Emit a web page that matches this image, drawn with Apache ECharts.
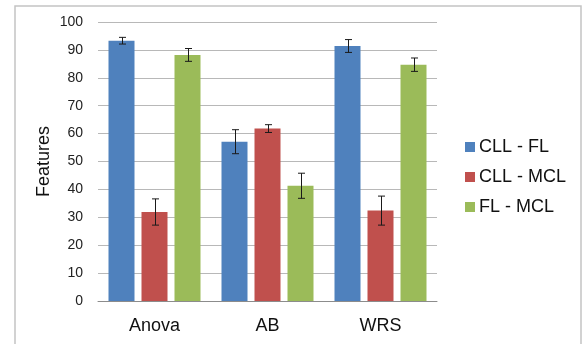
<!DOCTYPE html>
<html>
<head>
<meta charset="utf-8">
<script src="https://cdn.jsdelivr.net/npm/echarts@6/dist/echarts.min.js"></script>
<style>
html,body{margin:0;padding:0;background:#fff;}
#chart{width:582px;height:344px;}
</style>
</head>
<body>
<div id="chart"></div>
<script>
var categories = ['Anova', 'AB', 'WRS'];
var seriesNames = ['CLL - FL', 'CLL - MCL', 'FL - MCL'];
var cllFl = [93.3, 57.1, 91.4];
var cllMcl = [31.9, 61.8, 32.4];
var flMcl = [88.2, 41.3, 84.7];
var cllFlErr = [1.2, 4.3, 2.3];
var cllMclErr = [4.7, 1.4, 5.2];
var flMclErr = [2.3, 4.5, 2.4];
var yTicks = [0, 10, 20, 30, 40, 50, 60, 70, 80, 90, 100];

var colors = ['#4f81bd', '#c0504d', '#9bbb59'];
var values = [cllFl, cllMcl, flMcl];
var errs = [cllFlErr, cllMclErr, flMclErr];
var BAR_W = 26, BAR_GAP = 7;

var chart = echarts.init(document.getElementById('chart'), null, {renderer: 'canvas'});

var series = [];
values.forEach(function (vals, si) {
  series.push({
    name: seriesNames[si],
    type: 'bar',
    data: vals,
    barWidth: BAR_W,
    barGap: (BAR_GAP / BAR_W * 100) + '%',
    itemStyle: {color: colors[si]},
    silent: true
  });
});
values.forEach(function (vals, si) {
  var data = vals.map(function (v, i) { return [i, v, errs[si][i]]; });
  series.push({
    type: 'custom',
    silent: true,
    z: 5,
    data: data,
    encode: {x: 0, y: 1},
    renderItem: function (params, api) {
      var idx = api.value(0), v = api.value(1), e = api.value(2);
      var off = (si - 1) * (BAR_W + BAR_GAP);
      var top = api.coord([idx, v + e]);
      var bot = api.coord([idx, v - e]);
      var x = Math.round(top[0] + off) + 0.5;
      var cw = 3.5;
      var st = {stroke: '#1a1a1a', lineWidth: 1};
      return {
        type: 'group',
        children: [
          {type: 'line', shape: {x1: x, y1: top[1], x2: x, y2: bot[1]}, style: st},
          {type: 'line', shape: {x1: x - cw, y1: top[1], x2: x + cw, y2: top[1]}, style: st},
          {type: 'line', shape: {x1: x - cw, y1: bot[1], x2: x + cw, y2: bot[1]}, style: st}
        ]
      };
    }
  });
});

chart.setOption({
  animation: false,
  backgroundColor: '#fff',
  textStyle: {fontFamily: 'Liberation Sans, Arial, sans-serif'},
  graphic: [{
    type: 'rect',
    shape: {x: 15, y: 6, width: 566, height: 350},
    style: {fill: null, stroke: '#c4c4c4', lineWidth: 1.5},
    silent: true
  }],
  grid: {left: 98, right: 145, top: 22, bottom: 43},
  legend: {
    orient: 'vertical',
    left: 460,
    top: 133,
    itemWidth: 10,
    itemHeight: 10,
    itemGap: 12,
    icon: 'rect',
    data: seriesNames,
    textStyle: {fontSize: 18, color: '#111', padding: [0, 0, 0, -1]}
  },
  xAxis: {
    type: 'category',
    data: categories,
    axisLine: {lineStyle: {color: '#8c8c8c', width: 1}},
    axisTick: {show: false},
    axisLabel: {fontSize: 18, color: '#111', margin: 16}
  },
  yAxis: {
    type: 'value',
    min: yTicks[0],
    max: yTicks[yTicks.length - 1],
    interval: 10,
    name: 'Features',
    nameLocation: 'middle',
    nameGap: 45,
    nameMoveOverlap: false,
    nameTextStyle: {fontSize: 18, color: '#111'},
    axisLine: {show: false},
    axisTick: {show: false},
    axisLabel: {fontSize: 14, color: '#222', margin: 15},
    splitLine: {lineStyle: {color: '#b8b8b8', width: 1}}
  },
  series: series
});
</script>
</body>
</html>
